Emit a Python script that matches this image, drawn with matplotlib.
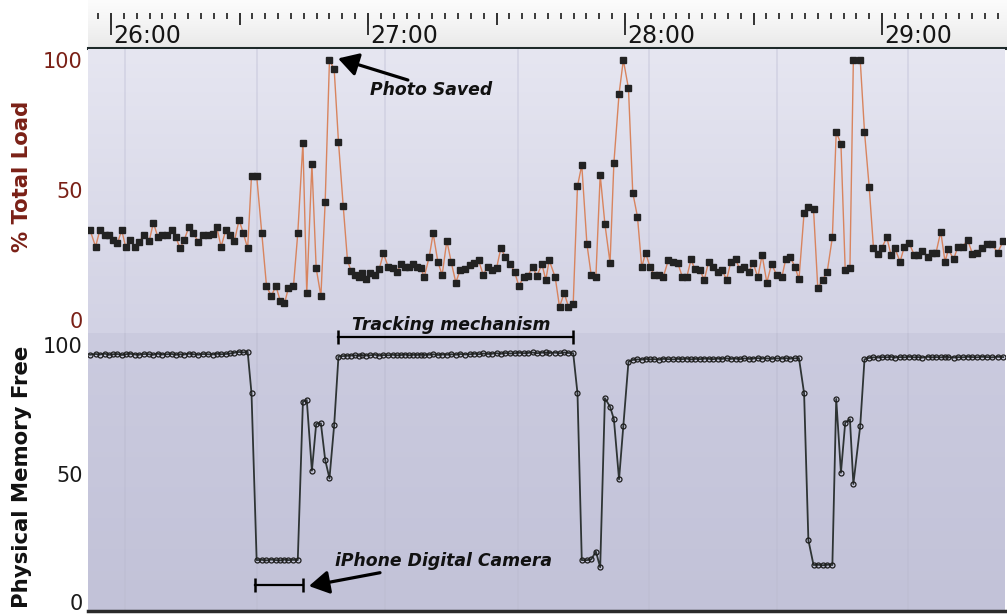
import numpy as np
import matplotlib
matplotlib.use("Agg")
import matplotlib.pyplot as plt
from matplotlib.ticker import MultipleLocator
from matplotlib.colors import LinearSegmentedColormap
import matplotlib.transforms as mtransforms

# ---------------- data (time in seconds after 26:00) ----------------
times = [
    -4.9, -3.6, -2.6, -1.4, -0.5, 0.5, 1.5, 2.5, 3.4, 4.4, 5.6, 6.5, 7.8, 8.9, 9.9, 10.9,
    12.0, 13.0, 14.2, 15.1, 16.1, 17.1, 18.2, 19.2, 20.4, 21.5, 22.6, 23.7, 24.7, 25.7,
    26.8, 27.8, 28.8, 29.9, 30.9, 31.9,
    32.8, 34.0, 35.2, 36.3, 37.4, 38.5, 39.5, 40.5, 41.4, 42.6, 43.6, 44.8, 45.7, 46.9,
    47.9, 49.0, 50.0, 51.0, 52.1, 53.1, 54.2, 55.2, 56.0, 57.0, 57.8, 58.6, 59.5, 60.5,
    61.6, 62.6, 63.6, 64.7, 65.8, 66.7, 67.7, 68.6, 69.6, 70.6, 71.4, 72.4, 73.1, 74.3,
    75.2, 76.3, 77.3, 78.4, 79.4, 80.5, 81.5, 82.7, 83.8, 84.8, 85.8, 86.9, 87.9, 88.9,
    90.0, 91.0, 92.0, 93.2, 94.2, 95.2, 96.3, 97.3, 98.4, 99.4, 100.6, 101.5, 102.3,
    103.7, 104.7, 105.8, 106.8, 107.9, 108.9, 109.9, 111.1, 112.1, 113.2, 114.2, 115.3,
    116.5, 117.4, 118.6, 119.6, 120.8, 121.8, 122.9, 123.9, 124.8, 125.8, 126.8, 127.9,
    128.9, 130.1, 131.3, 132.3, 133.4, 134.4, 135.4, 136.3, 137.5, 138.5, 139.5, 140.6,
    141.6, 142.7, 143.7, 144.7, 145.8, 146.8, 147.8, 148.9, 149.9, 151.0, 152.0, 153.1,
    154.2, 155.4,
    156.6, 157.5, 158.5, 159.7, 160.6, 161.8, 162.8, 164.0, 165.0, 166.1, 167.2, 168.4,
    169.3, 170.4, 171.4, 172.5, 173.3, 174.9, 175.9, 177.0, 178.0, 179.0, 179.9, 181.1,
    182.1, 183.0, 184.2, 185.2, 186.3, 187.5, 188.5, 189.4, 190.7, 191.6, 192.6, 193.7,
    194.7, 195.5, 196.7, 197.7, 198.8, 200.0, 201.1, 202.1, 203.3, 204.4, 205.6, 207.0,
    208.3,
]

total_load = [
    34.6, 28.2, 34.6, 32.7, 32.7, 30.8, 29.5, 34.6, 28.2, 30.8, 28.2, 30.1, 32.7, 30.3,
    37.4, 32.1, 32.6, 32.6, 34.6, 32.1, 27.6, 30.8, 35.9, 33.3, 30.1, 32.6, 32.7, 33.1,
    35.6, 28.2, 34.6, 32.7, 30.3, 38.5, 33.3, 27.6,
    55.5, 55.5, 33.3, 13.1, 9.2, 13.1, 7.4, 6.4, 12.2, 13.1, 33.3, 68.2, 10.3, 60.0,
    19.9, 9.2, 45.5, 100.0, 96.4, 68.6, 44.0, 23.0, 19.0, 17.3, 16.4, 18.0, 15.6, 18.0,
    17.3, 19.5, 25.6, 20.5, 19.9, 18.3, 21.5, 20.5, 20.5, 21.5, 20.5, 19.9, 16.4, 24.4,
    33.3, 22.4, 17.3, 30.5, 22.4, 14.4, 19.2, 19.5, 21.2, 22.0, 23.0, 17.3, 20.5, 19.2,
    19.9, 27.6, 24.4, 21.5, 18.6, 13.1, 16.4, 16.9, 20.5, 16.9, 21.5, 15.4, 23.0,
    16.4, 5.1, 10.3, 5.1, 6.2, 51.5, 59.6, 29.2, 17.3, 16.7, 55.8, 36.9, 22.0, 60.5,
    86.9, 100.0, 89.1, 49.0, 39.7, 20.3, 25.9, 20.5, 17.3, 17.3, 16.4, 23.0, 22.4, 22.0,
    16.4, 16.4, 23.3, 19.5, 19.2, 15.4, 22.4, 20.5, 18.6, 19.2, 15.4, 22.4, 23.3, 19.5,
    20.5, 18.6, 22.0, 16.4, 25.0, 14.4, 21.5, 17.3,
    16.4, 23.3, 24.4, 20.3, 15.6, 41.3, 43.3, 42.6, 12.2, 15.4, 18.6, 31.8, 72.4, 67.7,
    19.2, 19.9, 100.0, 100.0, 72.4, 51.0, 27.6, 25.4, 27.6, 31.8, 25.0, 27.6, 22.4, 28.2,
    29.7, 25.0, 25.0, 26.7, 24.1, 25.6, 25.9, 34.0, 22.4, 27.2, 23.3, 28.2, 28.2, 30.8,
    25.4, 25.6, 27.6, 29.2, 29.2, 25.9, 30.5,
]

memory_free = [
    96.2, 96.5, 96.3, 96.6, 96.2, 96.4, 96.5, 96.1, 96.4, 96.6, 96.3, 96.2, 96.5, 96.4,
    96.2, 96.6, 96.3, 96.4, 96.5, 96.2, 96.4, 96.3, 96.6, 96.4, 96.2, 96.5, 96.4, 96.3,
    96.6, 96.4, 96.5, 96.7, 97.0, 97.3, 97.1, 97.4,
    81.2, 16.3, 16.4, 16.2, 16.5, 16.3, 16.2, 16.5, 16.3, 16.4, 16.3, 77.9, 78.6, 51.1,
    69.3, 69.5, 55.3, 48.1, 68.9, 95.5, 95.7,
    95.8, 95.9, 96.0, 95.8, 96.1, 95.9, 96.0, 96.2, 95.9, 96.1, 96.0, 96.2, 96.0, 96.1,
    96.3, 96.0, 96.2, 96.1, 96.3, 96.1, 96.2, 96.4, 96.1, 96.3, 96.2, 96.4, 96.2, 96.5,
    96.3, 96.4, 96.6, 96.4, 96.7, 96.5, 96.6, 96.8, 96.6, 96.9, 96.7, 96.8, 97.0, 96.8,
    96.9, 97.1, 96.8, 97.0, 97.1, 96.9,
    97.0, 96.8, 97.1, 96.9, 96.8, 81.2, 16.3, 16.3, 16.6, 19.6, 13.5, 79.3, 76.0, 71.1,
    47.7, 68.5, 93.5,
    94.2, 94.4, 94.3, 94.6, 94.4, 94.5, 94.3, 94.6, 94.5, 94.4, 94.6, 94.5, 94.7, 94.4,
    94.6, 94.5, 94.7, 94.6, 94.5, 94.7, 94.6, 94.8, 94.6, 94.7, 94.5, 94.8, 94.6, 94.7,
    94.9, 94.7, 94.8, 94.6, 94.8,
    94.7, 94.9, 94.7, 94.8, 94.9, 81.2, 24.1, 14.4, 14.5, 14.3, 14.5, 14.4, 79.0, 50.3,
    69.8, 71.1, 45.9, 68.5, 94.4,
    95.0, 95.2, 95.1, 95.3, 95.2, 95.4, 95.1, 95.3, 95.2, 95.4, 95.2, 95.3, 95.1, 95.4,
    95.2, 95.3, 95.2, 95.4, 95.3, 95.1, 95.3, 95.2, 95.4, 95.3, 95.2, 95.4, 95.3, 95.2,
    95.4, 95.3,
]

tick_times = [0, 60, 120, 180]
tick_labels = ["26:00", "27:00", "28:00", "29:00"]
grid_times = [3.3, 34.0, 64.0, 95.0, 125.5, 155.5, 186.0]

# ---------------- layout ----------------
W, H = 1007, 615
fig = plt.figure(figsize=(W / 100, H / 100), dpi=100)
fig.patch.set_facecolor("white")


def ax_px(x0, y0, x1, y1, **kw):
    return fig.add_axes([x0 / W, 1 - y1 / H, (x1 - x0) / W, (y1 - y0) / H], **kw)


XMIN, XMAX = -5.37, 208.7


def gradient(ax, c_top, c_bot, ylo, yhi):
    cmap = LinearSegmentedColormap.from_list("g", [c_bot, c_top])
    g = np.linspace(0, 1, 256).reshape(-1, 1)
    ax.imshow(g, cmap=cmap, origin="lower", aspect="auto",
              extent=[XMIN, XMAX, ylo, yhi], zorder=0, interpolation="bicubic")


# header background
hb = ax_px(88, 0, 1007, 48)
cmap_h = LinearSegmentedColormap.from_list("h", ["#e9e9e9", "#f4f4f4", "#fcfcfc"])
hb.imshow(np.linspace(0, 1, 64).reshape(-1, 1), cmap=cmap_h, origin="lower",
          aspect="auto", extent=[0, 1, 0, 1])
hb.axis("off")

# header ticks
hx = ax_px(88, 13, 1005, 48)
hx.patch.set_alpha(0)
hx.set_xlim(XMIN, XMAX)
hx.set_ylim(0, 1)
for s in ("top", "left", "right"):
    hx.spines[s].set_visible(False)
hx.spines["bottom"].set_color("#1e2a2a")
hx.spines["bottom"].set_linewidth(2.2)
hx.xaxis.set_ticks_position("top")
hx.xaxis.set_major_locator(MultipleLocator(60))
hx.xaxis.set_minor_locator(MultipleLocator(3))
hx.tick_params(which="major", direction="in", length=16, width=1.4, color="#333333",
               labeltop=False, labelbottom=False)
hx.tick_params(which="minor", direction="in", length=4.5, width=1.4, color="#3a3a3a")
hx.set_yticks([])
trans = mtransforms.blended_transform_factory(hx.transData, hx.transAxes)
for t, lab in zip(tick_times, tick_labels):
    hx.text(t + 0.5, 0.13, lab, transform=trans, fontsize=17, ha="left",
            va="baseline", color="#151515")

hx2 = ax_px(88, 13, 1005, 48)
hx2.set_frame_on(False)
hx2.set_xlim(XMIN, XMAX)
hx2.xaxis.set_ticks_position("top")
hx2.xaxis.set_major_locator(MultipleLocator(30))
hx2.tick_params(which="major", direction="in", length=8.5, width=1.4, color="#333333",
                labeltop=False, labelbottom=False)
hx2.set_yticks([])

# ---------------- top panel ----------------
ax1 = ax_px(88, 49, 1005, 333)
Y1LO, Y1HI = (320 - 333) / 2.6, (320 - 49) / 2.6
gradient(ax1, "#e6e6f1", "#d2d2e4", Y1LO, Y1HI)
for g in grid_times:
    ax1.axvline(g, color="#c8c8dc", lw=1.2, alpha=0.6, zorder=1)
ax1.plot(times, total_load, color="#d8845e", lw=1.0, marker="s", ms=4.8,
         mfc="#222222", mec="#222222", zorder=3)
ax1.set_xlim(XMIN, XMAX)
ax1.set_ylim(Y1LO, Y1HI)
ax1.set_xticks([])
ax1.set_yticks([0, 50, 100])
ax1.tick_params(axis="y", length=0, labelsize=15, labelcolor="#7a2016", pad=4)
for s in ax1.spines.values():
    s.set_visible(False)

ax1.annotate("", xy=(53.0, 100.6), xytext=(69.3, 92.3),
             arrowprops=dict(arrowstyle="-|>,head_length=0.55,head_width=0.32",
                             lw=2.3, color="black", mutation_scale=22,
                             shrinkA=0, shrinkB=0), zorder=5)
ax1.text(74.7, 88.5, "Photo Saved", fontsize=12.4, fontweight="bold", style="italic",
         ha="center", va="center", color="#111111", zorder=5)

# ---------------- bottom panel ----------------
ax2 = ax_px(88, 333, 1005, 611)
Y2LO, Y2HI = (602 - 611) / 2.57, (602 - 333) / 2.57
gradient(ax2, "#cbcbdf", "#c2c2d8", Y2LO, Y2HI)
for g in grid_times:
    ax2.axvline(g, color="#bdbdd2", lw=1.2, alpha=0.6, zorder=1)
ax2.plot(times, memory_free, color="#2e3434", lw=1.3, marker="o", ms=3.6,
         mfc="none", mec="#1e1e1e", mew=0.9, zorder=3)
ax2.set_xlim(XMIN, XMAX)
ax2.set_ylim(Y2LO, Y2HI)
ax2.set_xticks([])
ax2.set_yticks([0, 50, 100])
ax2.tick_params(axis="y", length=0, labelsize=15, labelcolor="#1a1a1a", pad=4)
for s in ("top", "left", "right"):
    ax2.spines[s].set_visible(False)
ax2.spines["bottom"].set_color("#2a2a2a")
ax2.spines["bottom"].set_linewidth(2.5)

# tracking mechanism bracket
ax2.plot([53.0, 107.9], [103.1, 103.1], color="black", lw=1.6, marker="|", ms=10,
         mew=1.8, clip_on=False, zorder=5)
ax2.text(79.4, 107.9, "Tracking mechanism", fontsize=12.4, fontweight="bold",
         style="italic", ha="center", va="center", color="#111111", clip_on=False,
         zorder=5)

# iPhone camera bracket
ax2.plot([33.6, 44.9], [6.6, 6.6], color="black", lw=1.6, marker="|", ms=10,
         mew=1.8, zorder=5)
ax2.annotate("", xy=(46.2, 6.2), xytext=(62.8, 11.4),
             arrowprops=dict(arrowstyle="-|>,head_length=0.55,head_width=0.32",
                             lw=2.3, color="black", mutation_scale=22,
                             shrinkA=0, shrinkB=0), zorder=5)
ax2.text(77.6, 16.0, "iPhone Digital Camera", fontsize=12.4, fontweight="bold",
         style="italic", ha="center", va="center", color="#111111", zorder=5)

# axis titles
fig.text(22 / W, 1 - 176 / H, "% Total Load", rotation=90, ha="center", va="center",
         fontsize=15.3, fontweight="bold", color="#7a2016")
fig.text(22 / W, 1 - 477 / H, "Physical Memory Free", rotation=90, ha="center",
         va="center", fontsize=15.3, fontweight="bold", color="#111111")

fig.savefig("out.png", dpi=100)
